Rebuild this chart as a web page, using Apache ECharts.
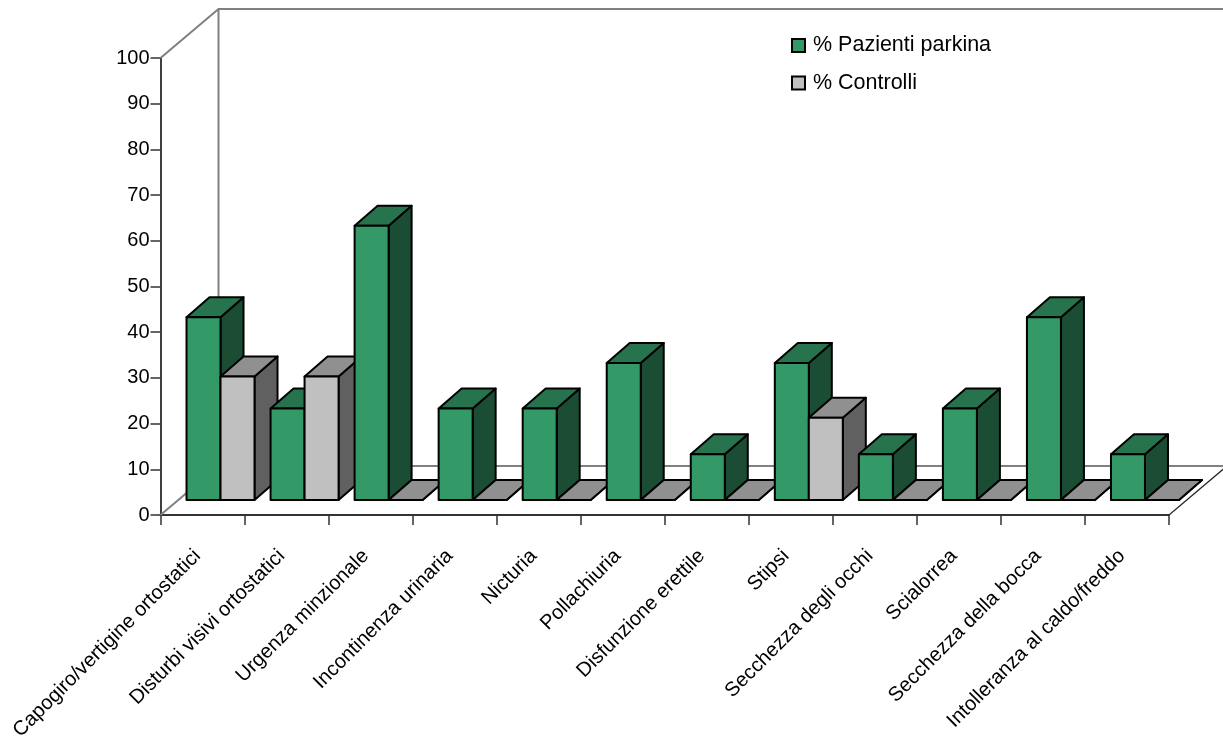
<!DOCTYPE html>
<html><head><meta charset="utf-8">
<style>html,body{margin:0;padding:0;background:#fff}#c{width:1223px;height:747px}</style>
<script src="https://cdn.jsdelivr.net/npm/echarts@6/dist/echarts.min.js"></script>
</head><body><div id="c"></div>
<script>
const categories = ["Capogiro/vertigine ortostatici","Disturbi visivi ortostatici","Urgenza minzionale","Incontinenza urinaria","Nicturia","Pollachiuria","Disfunzione erettile","Stipsi","Secchezza degli occhi","Scialorrea","Secchezza della bocca","Intolleranza al caldo/freddo"];
const pazienti = [40,20,60,20,20,30,10,30,10,20,40,10];
const controlli = [27,27,0,0,0,0,0,18,0,0,0,0];
const FONT = '"Liberation Sans", Arial, sans-serif';
const WALL = {dx:58, dy:-49};
const PLANE = {dx:18, dy:-15};
const BAR = {w:34, dx:23, dy:-20};
const looks = [
  {front:'#339966', top:'#26734d', side:'#1a4d33'},
  {front:'#c0c0c0', top:'#909090', side:'#606060'}
];
function poly(points, fill, z2){
  return {type:'polygon', z2, shape:{points}, style:{fill, stroke:'#000', lineWidth:2, lineJoin:'round'}};
}
function barRenderer(si){
  return function(params, api){
    const cat = api.value(0), v = api.value(1);
    const base = api.coord([cat,0]), topP = api.coord([cat,v]);
    const cx = base[0] + PLANE.dx;
    const x0 = si === 0 ? cx - BAR.w : cx, x1 = x0 + BAR.w;
    const yb = base[1] + PLANE.dy, yt = topP[1] + PLANE.dy;
    const L = looks[si], z = cat*10 + si*5;
    const dx = BAR.dx, dy = BAR.dy;
    return {type:'group', children:[
      poly([[x1,yb],[x1+dx,yb+dy],[x1+dx,yt+dy],[x1,yt]], L.side, z),
      poly([[x0,yt],[x0+dx,yt+dy],[x1+dx,yt+dy],[x1,yt]], L.top, z+1),
      poly([[x0,yb],[x1,yb],[x1,yt],[x0,yt]], L.front, z+2)
    ]};
  };
}
function wallRenderer(params){
  const g = params.coordSys;
  const l = g.x, r = g.x+g.width, t = g.y, b = g.y+g.height;
  const ln = (pts, w) => ({type:'polyline', z2:-1, shape:{points:pts}, style:{fill:null, stroke:'#808080', lineWidth:w}});
  return {type:'group', children:[
    ln([[l,t],[l+WALL.dx,t+WALL.dy],[r+WALL.dx,t+WALL.dy]],2),
    ln([[l+WALL.dx,t+WALL.dy],[l+WALL.dx,b+WALL.dy],[r+WALL.dx,b+WALL.dy]],2),
    ln([[l,b],[l+WALL.dx,b+WALL.dy]],2),
    {type:'polyline', z2:-1, shape:{points:[[r,b],[r+WALL.dx,b+WALL.dy]]}, style:{fill:null, stroke:'#222', lineWidth:1.2}}
  ]};
}
const chart = echarts.init(document.getElementById('c'), null, {renderer:'canvas'});
chart.setOption({
  animation:false,
  backgroundColor:'#fff',
  textStyle:{fontFamily:FONT},
  grid:{left:160.5, right:54, top:58, bottom:232, containLabel:false},
  legend:{
    data:['% Pazienti parkina','% Controlli'],
    orient:'vertical', left:786, top:29.5, itemWidth:13, itemHeight:13, itemGap:15.5,
    textStyle:{fontSize:21.5, fontFamily:FONT, color:'#000', padding:[3,0,0,3]},
    icon:'rect', selectedMode:false
  },
  xAxis:{type:'category', data:categories, boundaryGap:true,
    axisLine:{lineStyle:{color:'#333', width:2}},
    axisTick:{show:true, length:10, lineStyle:{color:'#333', width:1.5}},
    axisLabel:{interval:0, rotate:45, margin:33, padding:[0,7,0,0], fontSize:20.2, fontFamily:FONT, color:'#000', hideOverlap:false},
    splitLine:{show:false}},
  yAxis:{type:'value', min:0, max:100, interval:10,
    axisLine:{show:true, lineStyle:{color:'#000', width:1.5}},
    axisTick:{show:true, length:10, lineStyle:{color:'#333', width:1.5}},
    axisLabel:{margin:11, fontSize:20, fontFamily:FONT, color:'#000'},
    splitLine:{show:false}},
  series:[
    {name:'wall', type:'custom', clip:false, silent:true, z:1, renderItem:wallRenderer, data:[[0,0]]},
    {name:'% Pazienti parkina', type:'custom', clip:false, z:2, renderItem:barRenderer(0),
     itemStyle:{color:looks[0].front, borderColor:'#000', borderWidth:1.5},
     data:pazienti.map((v,i)=>[i,v])},
    {name:'% Controlli', type:'custom', clip:false, z:2, renderItem:barRenderer(1),
     itemStyle:{color:looks[1].front, borderColor:'#000', borderWidth:1.5},
     data:controlli.map((v,i)=>[i,v])}
  ]
});
</script></body></html>
